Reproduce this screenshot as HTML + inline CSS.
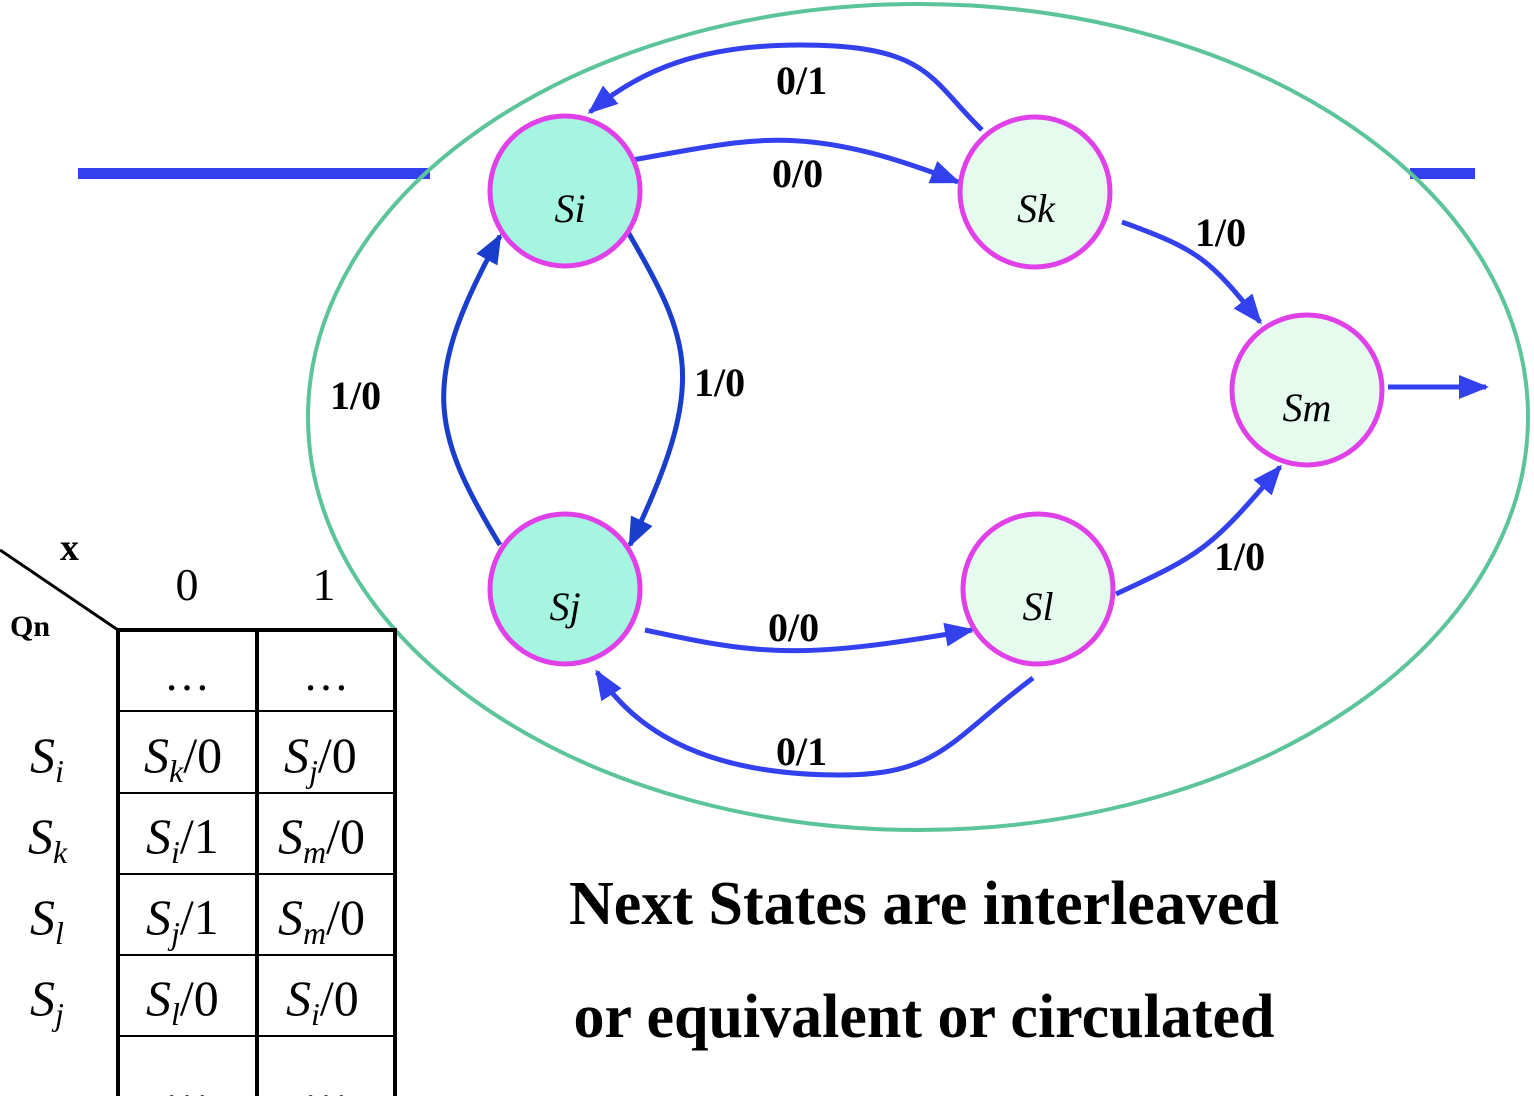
<!DOCTYPE html>
<html><head><meta charset="utf-8"><style>
html,body{margin:0;padding:0;background:#fff;}
svg{display:block;font-family:"Liberation Serif",serif;}
</style></head><body>
<svg width="1534" height="1096" viewBox="0 0 1534 1096">
<defs>
<marker id="ab" viewBox="0 0 10 10" refX="9" refY="5" markerWidth="6" markerHeight="6" orient="auto"><path d="M0,1 L10,5 L0,9 Z" fill="#3340ee"/></marker>
<marker id="ad" viewBox="0 0 10 10" refX="9" refY="5" markerWidth="6" markerHeight="6" orient="auto"><path d="M0,1 L10,5 L0,9 Z" fill="#1a3ecc"/></marker>
</defs>
<g>
<rect x="78" y="168" width="352" height="11" fill="#3340ee"/>
<rect x="1410" y="168" width="65" height="11" fill="#3340ee"/>
</g>
<ellipse cx="918" cy="417" rx="610" ry="413" fill="none" stroke="#5cc49a" stroke-width="4"/>
<g fill="none" stroke-width="5">
<path d="M982,130 C930,80 930,45 800,45 C700,45 640,70 590,112" stroke="#3340ee" marker-end="url(#ab)"/>
<path d="M632,160 C750,140 800,120 958,182" stroke="#3340ee" marker-end="url(#ab)"/>
<path d="M1122,222 C1200,250 1210,260 1260,322" stroke="#3340ee" marker-end="url(#ab)"/>
<path d="M628,232 C690,340 710,380 630,545" stroke="#1a3ecc" marker-end="url(#ad)"/>
<path d="M500,545 C430,430 420,380 500,236" stroke="#1a3ecc" marker-end="url(#ad)"/>
<path d="M645,630 C760,655 800,660 972,630" stroke="#3340ee" marker-end="url(#ab)"/>
<path d="M1033,678 C950,740 940,775 840,775 C720,775 640,740 597,672" stroke="#3340ee" marker-end="url(#ab)"/>
<path d="M1116,594 C1200,555 1210,550 1280,467" stroke="#3340ee" marker-end="url(#ab)"/>
<path d="M1388,387 L1486,387" stroke="#3340ee" marker-end="url(#ab)"/>
</g>
<g font-weight="bold" font-size="40" fill="#000">
<text x="776" y="94">0/1</text>
<text x="772" y="187">0/0</text>
<text x="1195" y="246">1/0</text>
<text x="694" y="396">1/0</text>
<text x="330" y="409">1/0</text>
<text x="768" y="641">0/0</text>
<text x="1214" y="570">1/0</text>
<text x="776" y="765">0/1</text>
</g>
<g stroke="#e040e8" stroke-width="5">
<circle cx="565" cy="191" r="75" fill="#a6f5e0"/>
<circle cx="1035" cy="192" r="75" fill="#e4fbee"/>
<circle cx="1307" cy="390" r="75" fill="#e4fbee"/>
<circle cx="565" cy="589" r="75" fill="#a6f5e0"/>
<circle cx="1038" cy="589" r="75" fill="#e4fbee"/>
</g>
<g font-style="italic" font-size="40" text-anchor="middle" fill="#000">
<text x="570" y="222">Si</text>
<text x="1036" y="222">Sk</text>
<text x="1307" y="421">Sm</text>
<text x="565" y="620">Sj</text>
<text x="1038" y="620">Sl</text>
</g>
<g>
<line x1="0" y1="550" x2="118" y2="630" stroke="#000" stroke-width="3"/>
<text x="60" y="560" font-size="38" font-weight="bold">x</text>
<text x="10" y="636" font-size="30" font-weight="bold">Qn</text>
<text x="187" y="600" font-size="46" text-anchor="middle">0</text>
<text x="324" y="600" font-size="46" text-anchor="middle">1</text>
<g stroke="#000" stroke-width="4" fill="none">
<line x1="118" y1="630" x2="118" y2="1096"/>
<line x1="257" y1="630" x2="257" y2="1096"/>
<line x1="395" y1="630" x2="395" y2="1096"/>
<line x1="116" y1="630" x2="397" y2="630"/>
</g>
<g stroke="#000" stroke-width="2">
<line x1="118" y1="711" x2="395" y2="711"/>
<line x1="118" y1="793" x2="395" y2="793"/>
<line x1="118" y1="874" x2="395" y2="874"/>
<line x1="118" y1="955" x2="395" y2="955"/>
<line x1="118" y1="1036" x2="395" y2="1036"/>
</g>
<g font-size="46" text-anchor="middle">
<text x="187" y="690">…</text><text x="326" y="690">…</text>
<text x="187" y="1100">…</text><text x="326" y="1100">…</text>
</g>
<g font-size="50">
<text x="30" y="772"><tspan font-style="italic">S</tspan><tspan font-style="italic" font-size="32" dy="10">i</tspan></text>
<text x="28" y="853"><tspan font-style="italic">S</tspan><tspan font-style="italic" font-size="32" dy="10">k</tspan></text>
<text x="30" y="934"><tspan font-style="italic">S</tspan><tspan font-style="italic" font-size="32" dy="10">l</tspan></text>
<text x="30" y="1015"><tspan font-style="italic">S</tspan><tspan font-style="italic" font-size="32" dy="10">j</tspan></text>
<text x="144" y="772"><tspan font-style="italic">S</tspan><tspan font-style="italic" font-size="32" dy="10">k</tspan><tspan dy="-10">/0</tspan></text>
<text x="284" y="772"><tspan font-style="italic">S</tspan><tspan font-style="italic" font-size="32" dy="10">j</tspan><tspan dy="-10">/0</tspan></text>
<text x="146" y="853"><tspan font-style="italic">S</tspan><tspan font-style="italic" font-size="32" dy="10">i</tspan><tspan dy="-10">/1</tspan></text>
<text x="278" y="853"><tspan font-style="italic">S</tspan><tspan font-style="italic" font-size="32" dy="10">m</tspan><tspan dy="-10">/0</tspan></text>
<text x="146" y="934"><tspan font-style="italic">S</tspan><tspan font-style="italic" font-size="32" dy="10">j</tspan><tspan dy="-10">/1</tspan></text>
<text x="278" y="934"><tspan font-style="italic">S</tspan><tspan font-style="italic" font-size="32" dy="10">m</tspan><tspan dy="-10">/0</tspan></text>
<text x="146" y="1015"><tspan font-style="italic">S</tspan><tspan font-style="italic" font-size="32" dy="10">l</tspan><tspan dy="-10">/0</tspan></text>
<text x="286" y="1015"><tspan font-style="italic">S</tspan><tspan font-style="italic" font-size="32" dy="10">i</tspan><tspan dy="-10">/0</tspan></text>
</g>
</g>
<g font-size="62" font-weight="bold" text-anchor="middle">
<text x="924" y="924">Next States are interleaved</text>
<text x="924" y="1037">or equivalent or circulated</text>
</g>
</svg>
</body></html>
